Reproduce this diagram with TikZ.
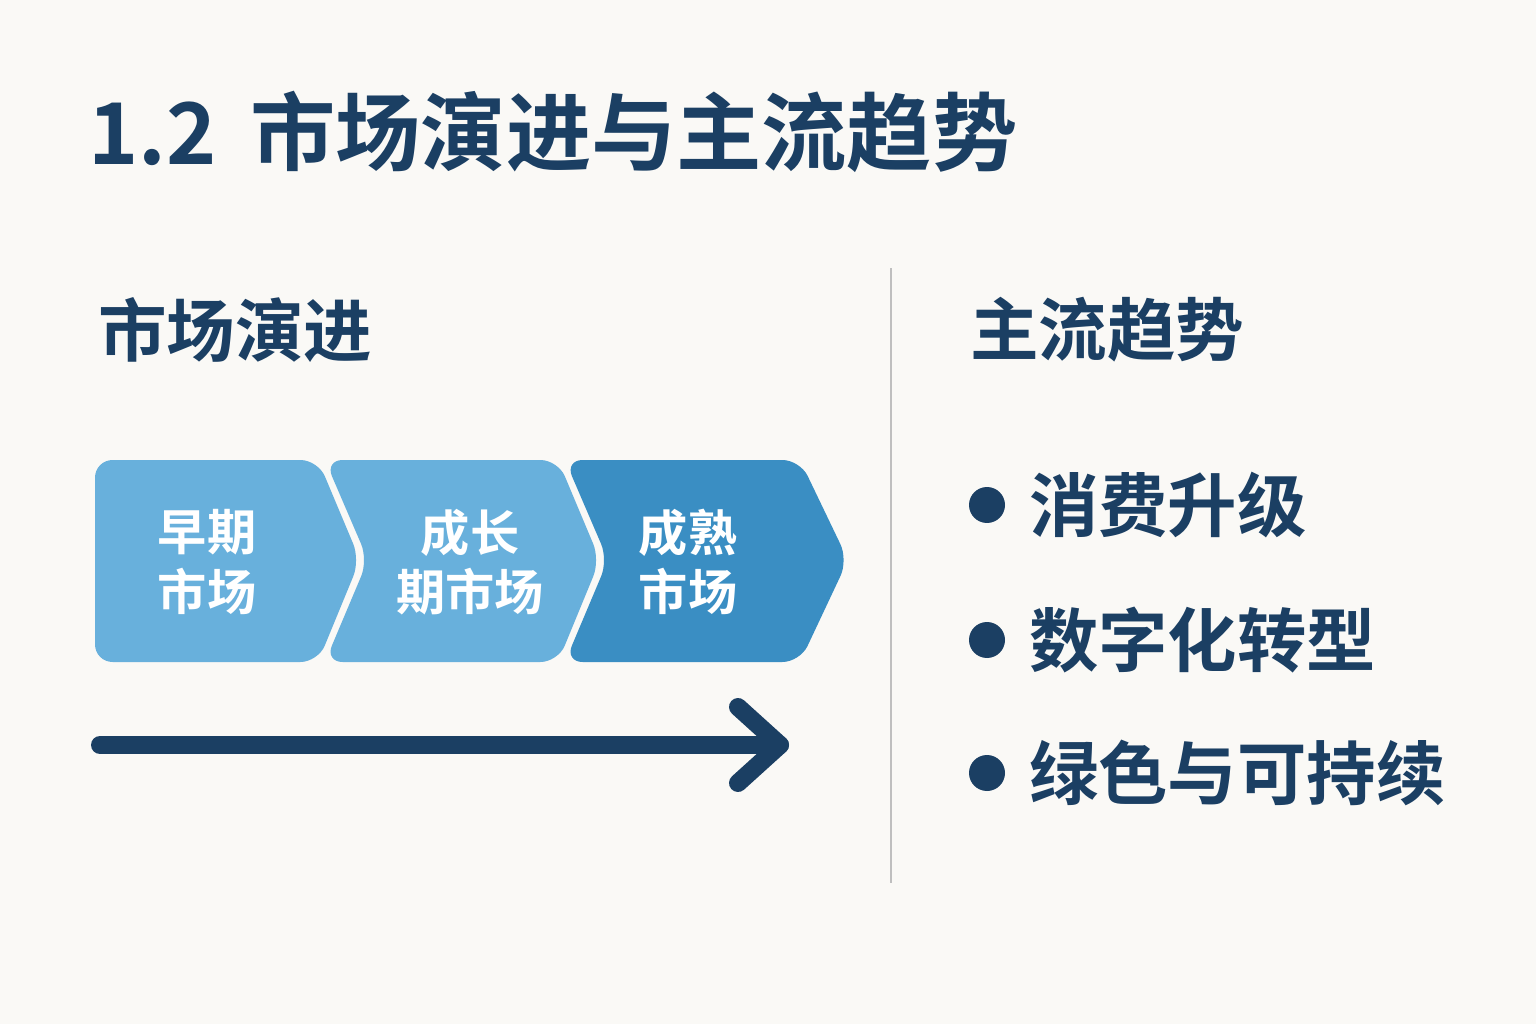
\documentclass[tikz,border=0pt]{standalone}
\usepackage{fontspec}
\setmainfont{Noto Sans CJK SC}
\newfontfamily\cjkbold{Noto Sans CJK SC Bold}
\definecolor{navy}{HTML}{1B3F63}
\definecolor{paper}{HTML}{FAF9F6}
\definecolor{lightblue}{HTML}{68B0DC}
\definecolor{midblue}{HTML}{3A8EC3}
\usetikzlibrary{positioning}

\begin{document}
\begin{tikzpicture}[x=0.02cm, y=-0.02cm,
    heading/.style={anchor=west, text=navy, font=\cjkbold\fontsize{39}{43}\selectfont},
    stagetext/.style={align=center, text=white, font=\cjkbold\fontsize{28}{34}\selectfont},
    trend/.style={anchor=west, text=navy, font=\cjkbold\fontsize{39.5}{44}\selectfont},
    dot/.style={circle, fill=navy, inner sep=0pt, minimum size=0.72cm},
]
\fill[paper] (0,0) rectangle (1536,1024);
\useasboundingbox (0,0) rectangle (1536,1024);

\node[anchor=west, text=navy, font=\cjkbold\fontsize{48.5}{52}\selectfont] (title) at (82,132) {1.2\hspace{0.4em}市场演进与主流趋势};

% left column
\node[heading] (evo) at (92,330) {市场演进};
\fill[lightblue, rounded corners=10] (95,460) -- (318,460) -- (360,560) -- (318,662) -- (95,662) -- cycle;
\fill[lightblue, rounded corners=10] (325,460) -- (558,460) -- (600,560) -- (558,662) -- (325,662) -- (368,560) -- cycle;
\fill[midblue, rounded corners=10] (565,460) -- (800,460) -- (848,560) -- (800,662) -- (565,662) -- (608,560) -- cycle;
\node[stagetext] (early) at (207,562) {早期\\市场};
\node[stagetext] (growth) at (470,562) {成长\\期市场};
\node[stagetext] (mature) at (688,562) {成熟\\市场};

\coordinate (arrowstart) at (100,745);
\coordinate (arrowend) at (780,745);
\draw[navy, line width=0.36cm, line cap=round] (arrowstart) -- (arrowend);
\draw[navy, line width=0.36cm, line cap=round, line join=round] (738,707) -- (arrowend) -- (738,783);

% divider
\draw[gray!50, line width=0.05cm] (891,268) -- (891,883);

% right column
\node[heading] (trends) at (964,330) {主流趋势};
\node[dot] (d1) at (987,505) {};
\node[dot] (d2) at (987,640) {};
\node[dot] (d3) at (987,773) {};
\node[trend, right=0.35cm of d1] (t1) {消费升级};
\node[trend, right=0.35cm of d2] (t2) {数字化转型};
\node[trend, right=0.35cm of d3] (t3) {绿色与可持续};
\end{tikzpicture}
\end{document}
